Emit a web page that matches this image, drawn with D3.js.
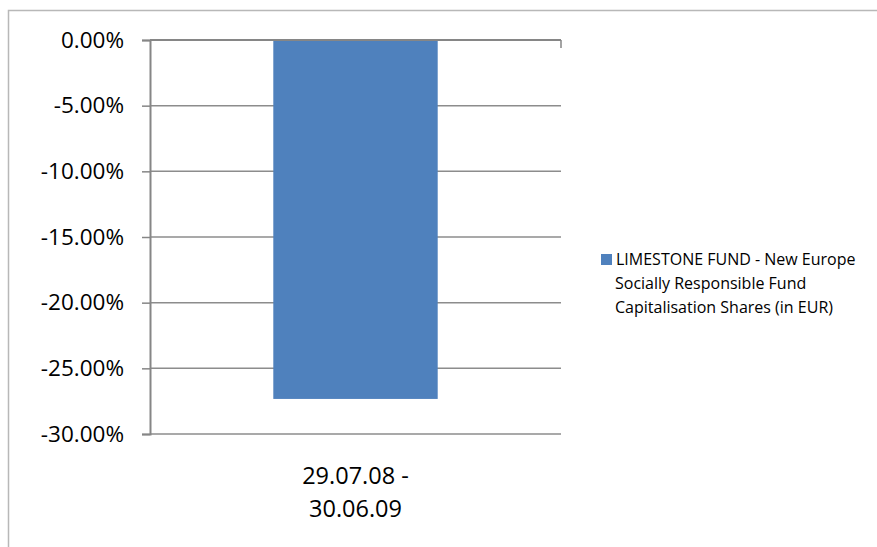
<!DOCTYPE html>
<meta charset="utf-8">
<style>
  body { margin: 0; background: #fff; }
  svg { display: block; font-family: "Open Sans", sans-serif; }
</style>
<svg width="877" height="547"></svg>
<script src="https://d3js.org/d3.v7.min.js"></script>
<script>
// data
var categories = ["29.07.08 - 30.06.09"];
var catLines = [["29.07.08 -", "30.06.09"]];
var values = [-27.33];
var yTicks = [0, -5, -10, -15, -20, -25, -30];
var seriesName = ["LIMESTONE FUND - New Europe", "Socially Responsible Fund", "Capitalisation Shares (in EUR)"];

var svg = d3.select("svg");
var plotLeft = 150, plotRight = 561, plotTop = 40, plotBottom = 434;

// outer chart border (only top and left visible in the crop)
svg.append("rect")
    .attr("x", 8.5).attr("y", 10.5)
    .attr("width", 1000).attr("height", 1000)
    .attr("fill", "none")
    .attr("stroke", "#b8b8b8")
    .attr("stroke-width", 1.5);

var y = d3.scaleLinear().domain([-30, 0]).range([plotBottom, plotTop]);
var x = d3.scaleBand().domain(categories).range([plotLeft, plotRight])
    .paddingInner(0.6).paddingOuter(0.3);

// gridlines
svg.append("g").selectAll("line")
  .data(yTicks)
  .join("line")
    .attr("x1", plotLeft).attr("x2", plotRight)
    .attr("y1", function(d) { return y(d); })
    .attr("y2", function(d) { return y(d); })
    .attr("stroke", "#8c8c8c")
    .attr("stroke-width", 1.5);

// bars
svg.append("g").selectAll("rect")
  .data(values)
  .join("rect")
    .attr("x", function(d, i) { return x(categories[i]); })
    .attr("width", x.bandwidth())
    .attr("y", function(d) { return y(Math.max(0, d)); })
    .attr("height", function(d) { return Math.abs(y(d) - y(0)); })
    .attr("fill", "#4F81BD");

// y axis
var yAxis = svg.append("g")
    .attr("transform", "translate(" + plotLeft + ",0)")
    .call(d3.axisLeft(y).tickValues(yTicks).tickSize(8).tickPadding(18)
      .tickFormat(function(d) { return d.toFixed(2) + "%"; }));
yAxis.select(".domain").attr("stroke", "#868686").attr("stroke-width", 2);
yAxis.selectAll(".tick line").attr("stroke", "#868686").attr("stroke-width", 1.5);
yAxis.selectAll(".tick text")
    .attr("font-family", "Open Sans")
    .attr("font-size", 22.5)
    .attr("fill", "#000");

// x axis line at zero (top), with category tick marks
svg.append("line")
    .attr("x1", plotLeft).attr("x2", plotRight)
    .attr("y1", y(0)).attr("y2", y(0))
    .attr("stroke", "#868686").attr("stroke-width", 2);
svg.append("line")
    .attr("x1", plotRight).attr("x2", plotRight)
    .attr("y1", y(0)).attr("y2", y(0) + 8)
    .attr("stroke", "#868686").attr("stroke-width", 1.5);

// category labels below the plot
svg.append("g").selectAll("text")
  .data(categories)
  .join("text")
    .attr("text-anchor", "middle")
    .attr("font-size", 23.5)
    .attr("fill", "#000")
    .each(function(d, i) {
      var t = d3.select(this);
      catLines[i].forEach(function(line, j) {
        t.append("tspan")
          .attr("x", x(d) + x.bandwidth() / 2)
          .attr("y", 484 + j * 33)
          .text(line);
      });
    });

// legend
var legend = svg.append("g");
legend.append("rect")
    .attr("x", 601).attr("y", 254)
    .attr("width", 11).attr("height", 11)
    .attr("fill", "#4F81BD");
legend.append("text")
    .attr("font-size", 16)
    .attr("fill", "#000")
    .selectAll("tspan")
    .data(seriesName)
    .join("tspan")
      .attr("x", function(d, i) { return i === 0 ? 616 : 615; })
      .attr("y", function(d, i) { return 265 + i * 24; })
      .text(function(d) { return d; });
</script>
